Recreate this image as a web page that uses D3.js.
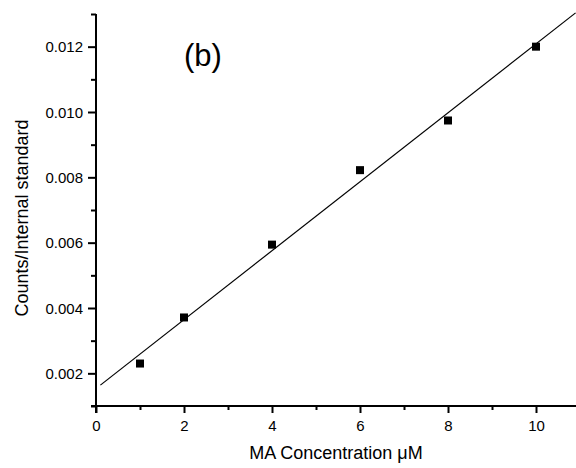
<!DOCTYPE html>
<html>
<head>
<meta charset="utf-8">
<script src="https://cdn.jsdelivr.net/npm/d3@7"></script>
<style>
  body { margin: 0; background: #fff; }
  svg { display: block; font-family: "Liberation Sans", Arial, sans-serif; }
</style>
</head>
<body>
<div id="chart"></div>
<script>
const width = 576,
    height = 468;

// data
const concentration = [1, 2, 4, 6, 8, 10];
const ratio = [0.0023, 0.00371, 0.00594, 0.00822, 0.00974, 0.0120];
const xTicks = [0, 2, 4, 6, 8, 10];
const yTicks = [0.002, 0.004, 0.006, 0.008, 0.010, 0.012];
const fitRange = [0.1, 10.9];

const margin = {top: 14, left: 96, bottom: 62};

const x = d3.scaleLinear().domain([0, 11]).range([margin.left, margin.left + 44 * 11]);
const y = d3.scaleLinear().domain([0.001, 0.013]).range([height - margin.bottom, margin.top]);

const svg = d3.select('#chart')
    .append('svg')
    .attr('width', width)
    .attr('height', height);

// least squares fit
const mx = d3.mean(concentration), my = d3.mean(ratio);
const sxy = d3.sum(concentration, (d, i) => (d - mx) * (ratio[i] - my));
const sxx = d3.sum(concentration, d => (d - mx) * (d - mx));
const slope = sxy / sxx, intercept = my - slope * mx;

const isMajorY = d => yTicks.some(t => Math.abs(t - d) < 1e-9);

// axes
const xAxis = svg.append('g')
    .attr('transform', `translate(0,${y(0.001)})`);
xAxis.call(d3.axisBottom(x).tickValues(d3.range(0, 12, 1)).tickSize(4).tickFormat(''));
xAxis.selectAll('.tick').filter(d => xTicks.includes(d)).select('line').attr('y2', 7);
xAxis.selectAll('.tick').filter(d => xTicks.includes(d)).append('text')
    .attr('y', 25)
    .attr('fill', '#000')
    .attr('text-anchor', 'middle')
    .attr('font-size', 15)
    .text(d => d);

const yAxis = svg.append('g')
    .attr('transform', `translate(${x(0)},0)`);
yAxis.call(d3.axisLeft(y).tickValues(d3.range(1, 14).map(d => d / 1000)).tickSize(5).tickFormat(''));
yAxis.selectAll('.tick').filter(isMajorY).select('line').attr('x2', -8);
yAxis.selectAll('.tick').filter(isMajorY).append('text')
    .attr('x', -13)
    .attr('dy', '0.35em')
    .attr('fill', '#000')
    .attr('text-anchor', 'end')
    .attr('font-size', 15)
    .text(d => d3.format('.3f')(d));

svg.selectAll('.domain').attr('stroke', '#000').attr('stroke-width', 2);
xAxis.select('.domain').attr('d', `M${x(0) - 5},0H${x(11)}`);
yAxis.select('.domain').attr('d', `M0,${y(0.013)}V${y(0.001) + 7}`);
svg.selectAll('.tick line').attr('stroke', '#000').attr('stroke-width', 2);

// fit line
svg.append('line')
    .attr('x1', x(fitRange[0]))
    .attr('y1', y(intercept + slope * fitRange[0]))
    .attr('x2', x(fitRange[1]))
    .attr('y2', y(intercept + slope * fitRange[1]))
    .attr('stroke', '#000')
    .attr('stroke-width', 1.2);

// points
svg.selectAll('rect.pt')
    .data(concentration)
    .enter()
    .append('rect')
    .attr('class', 'pt')
    .attr('x', d => x(d) - 4)
    .attr('y', (d, i) => y(ratio[i]) - 4)
    .attr('width', 8)
    .attr('height', 8)
    .attr('fill', '#000');

// labels
svg.append('text')
    .text('(b)')
    .attr('x', 203)
    .attr('y', 66)
    .attr('text-anchor', 'middle')
    .attr('font-size', 31);

svg.append('text')
    .attr('x', 336)
    .attr('y', 459)
    .attr('text-anchor', 'middle')
    .attr('font-size', 18)
    .text('MA Concentration μM');

svg.append('text')
    .attr('transform', 'translate(28,218) rotate(-90)')
    .attr('text-anchor', 'middle')
    .attr('font-size', 18)
    .text('Counts/Internal standard');
</script>
</body>
</html>
